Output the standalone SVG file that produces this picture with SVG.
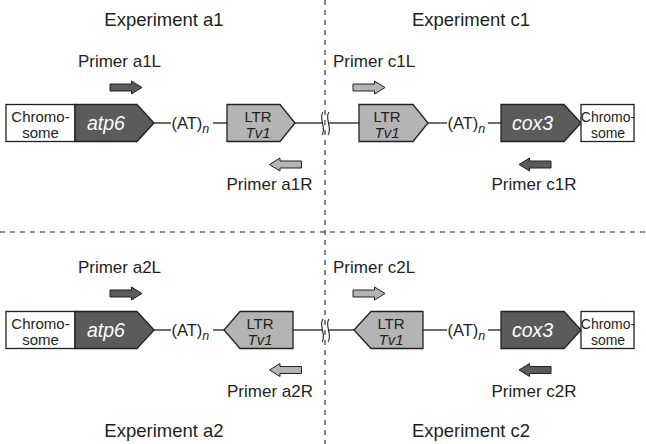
<svg xmlns="http://www.w3.org/2000/svg" width="646" height="444" viewBox="0 0 646 444">
  <style>
    text { font-family: "Liberation Sans", Arial, sans-serif; fill: #231f20; }
    .title { font-size: 18.5px; text-anchor: middle; }
    .plabel { font-size: 17px; }
    .mid { text-anchor: middle; }
    .small { font-size: 15px; text-anchor: middle; }
    .narrow { font-size: 14px; }
    .gene { font-size: 19.5px; font-style: italic; fill: #ffffff; text-anchor: middle; }
    .at { font-size: 16.5px; }
    .sub { font-size: 12.5px; font-style: italic; }
    .box { fill: #ffffff; stroke: #231f20; stroke-width: 1.3; }
    .dark { fill: #5b5b5b; stroke: #231f20; stroke-width: 1.3; }
    .light { fill: #b4b4b4; stroke: #231f20; stroke-width: 1.3; }
    .link { stroke: #231f20; stroke-width: 1.3; fill: none; }
    .brk { stroke: #231f20; stroke-width: 1.1; fill: none; }
    .sep { stroke: #231f20; stroke-width: 1.1; stroke-dasharray: 5 5; fill: none; }
    .pdark { fill: #5b5b5b; stroke: #231f20; stroke-width: 1; }
    .plight { fill: #b4b4b4; stroke: #231f20; stroke-width: 1; }
  </style>
  <defs>
    <!-- block arrows for primers, origin at the tail/tip on the centre line -->
    <path id="arrowR" d="M0,-3.5 H21.5 V-6.5 L32,0 L21.5,6.5 V3.5 H0 Z"/>
    <path id="arrowL" d="M32,-3.5 H10.5 V-6.5 L0,0 L10.5,6.5 V3.5 H32 Z"/>
  </defs>

  <!-- quadrant separators -->
  <g id="separators">
    <line class="sep" x1="325" y1="0" x2="325" y2="444"/>
    <line class="sep" x1="0" y1="232" x2="646" y2="232"/>
  </g>

  <!-- titles -->
  <g id="titles">
    <text class="title" x="164" y="26">Experiment a1</text>
    <text class="title" x="471" y="26">Experiment c1</text>
    <text class="title" x="164" y="437">Experiment a2</text>
    <text class="title" x="471" y="437">Experiment c2</text>
  </g>

  <!-- connectors: DNA strand segments, repeats and break marks -->
  <g id="connectors">
    <!-- row 1 -->
    <line class="link" x1="154" y1="123" x2="171" y2="123"/>
    <line class="link" x1="213" y1="123" x2="227" y2="123"/>
    <line class="link" x1="295" y1="123" x2="322" y2="123"/>
    <line class="link" x1="328" y1="123" x2="359" y2="123"/>
    <line class="link" x1="428" y1="123" x2="447" y2="123"/>
    <line class="link" x1="488" y1="123" x2="501" y2="123"/>
    <path class="brk" d="M323,112 C318,118 327,128 322,135"/>
    <path class="brk" d="M329,112 C324,118 333,128 328,135"/>
    <text class="at" x="171.5" y="128.8">(AT)<tspan class="sub" dy="4">n</tspan></text>
    <text class="at" x="447.5" y="128.8">(AT)<tspan class="sub" dy="4">n</tspan></text>
    <!-- row 2 -->
    <line class="link" x1="154" y1="330" x2="171" y2="330"/>
    <line class="link" x1="213" y1="330" x2="224" y2="330"/>
    <line class="link" x1="293" y1="330" x2="322" y2="330"/>
    <line class="link" x1="328" y1="330" x2="354" y2="330"/>
    <line class="link" x1="423" y1="330" x2="447" y2="330"/>
    <line class="link" x1="488" y1="330" x2="501" y2="330"/>
    <path class="brk" d="M323,319 C318,325 327,335 322,342"/>
    <path class="brk" d="M329,319 C324,325 333,335 328,342"/>
    <text class="at" x="171.5" y="335.8">(AT)<tspan class="sub" dy="4">n</tspan></text>
    <text class="at" x="447.5" y="335.8">(AT)<tspan class="sub" dy="4">n</tspan></text>
  </g>

  <!-- row 1 nodes -->
  <g id="chrom-a1">
    <rect class="box" x="6" y="104.5" width="69" height="37"/>
    <text class="small" x="40.5" y="121.5">Chromo-</text>
    <text class="small" x="40.5" y="137.5">some</text>
  </g>
  <g id="atp6-a1">
    <path class="dark" d="M75,104.5 H137 L154,123 L137,141.5 H75 Z"/>
    <text class="gene" x="106" y="130">atp6</text>
  </g>
  <g id="ltr-a1">
    <path class="light" d="M227,104.5 H280 L295,123 L280,141.5 H227 Z"/>
    <text class="small" x="258" y="121.5">LTR</text>
    <text class="small" x="258" y="137.5" font-style="italic">Tv1</text>
  </g>
  <g id="ltr-c1">
    <path class="light" d="M359,104.5 H413 L428,123 L413,141.5 H359 Z"/>
    <text class="small" x="387" y="121.5">LTR</text>
    <text class="small" x="387" y="137.5" font-style="italic">Tv1</text>
  </g>
  <g id="cox3-c1">
    <path class="dark" d="M501,104.5 H564 L581,123 L564,141.5 H501 Z"/>
    <text class="gene" x="532.5" y="130">cox3</text>
  </g>
  <g id="chrom-c1">
    <rect class="box" x="581" y="104.5" width="53" height="37"/>
    <text class="small narrow" x="608" y="121.5">Chromo-</text>
    <text class="small narrow" x="608" y="137.5">some</text>
  </g>

  <!-- row 2 nodes -->
  <g id="chrom-a2">
    <rect class="box" x="6" y="311.5" width="69" height="37"/>
    <text class="small" x="40.5" y="328.5">Chromo-</text>
    <text class="small" x="40.5" y="344.5">some</text>
  </g>
  <g id="atp6-a2">
    <path class="dark" d="M75,311.5 H137 L154,330 L137,348.5 H75 Z"/>
    <text class="gene" x="106" y="337">atp6</text>
  </g>
  <g id="ltr-a2">
    <path class="light" d="M293,311.5 H240 L224,330 L240,348.5 H293 Z"/>
    <text class="small" x="260" y="328.5">LTR</text>
    <text class="small" x="260" y="344.5" font-style="italic">Tv1</text>
  </g>
  <g id="ltr-c2">
    <path class="light" d="M423,311.5 H371 L354,330 L371,348.5 H423 Z"/>
    <text class="small" x="391" y="328.5">LTR</text>
    <text class="small" x="391" y="344.5" font-style="italic">Tv1</text>
  </g>
  <g id="cox3-c2">
    <path class="dark" d="M501,311.5 H564 L581,330 L564,348.5 H501 Z"/>
    <text class="gene" x="532.5" y="337">cox3</text>
  </g>
  <g id="chrom-c2">
    <rect class="box" x="581" y="311.5" width="53" height="37"/>
    <text class="small narrow" x="608" y="328.5">Chromo-</text>
    <text class="small narrow" x="608" y="344.5">some</text>
  </g>

  <!-- primers -->
  <g id="primer-a1L">
    <use href="#arrowR" class="pdark" transform="translate(110,87.5)"/>
    <text class="plabel mid" x="119.5" y="66.5">Primer a1L</text>
  </g>
  <g id="primer-a1R">
    <use href="#arrowL" class="plight" transform="translate(269.5,164.5)"/>
    <text class="plabel mid" x="269.5" y="190">Primer a1R</text>
  </g>
  <g id="primer-c1L">
    <use href="#arrowR" class="plight" transform="translate(353,87.5)"/>
    <text class="plabel" x="333" y="66.5">Primer c1L</text>
  </g>
  <g id="primer-c1R">
    <use href="#arrowL" class="pdark" transform="translate(519,164.5)"/>
    <text class="plabel mid" x="534" y="190">Primer c1R</text>
  </g>
  <g id="primer-a2L">
    <use href="#arrowR" class="pdark" transform="translate(110,293.5)"/>
    <text class="plabel mid" x="119.5" y="273">Primer a2L</text>
  </g>
  <g id="primer-a2R">
    <use href="#arrowL" class="plight" transform="translate(269.5,370)"/>
    <text class="plabel mid" x="270" y="397">Primer a2R</text>
  </g>
  <g id="primer-c2L">
    <use href="#arrowR" class="plight" transform="translate(353,293.5)"/>
    <text class="plabel" x="333" y="273">Primer c2L</text>
  </g>
  <g id="primer-c2R">
    <use href="#arrowL" class="pdark" transform="translate(519,370)"/>
    <text class="plabel mid" x="534" y="397">Primer c2R</text>
  </g>
</svg>
